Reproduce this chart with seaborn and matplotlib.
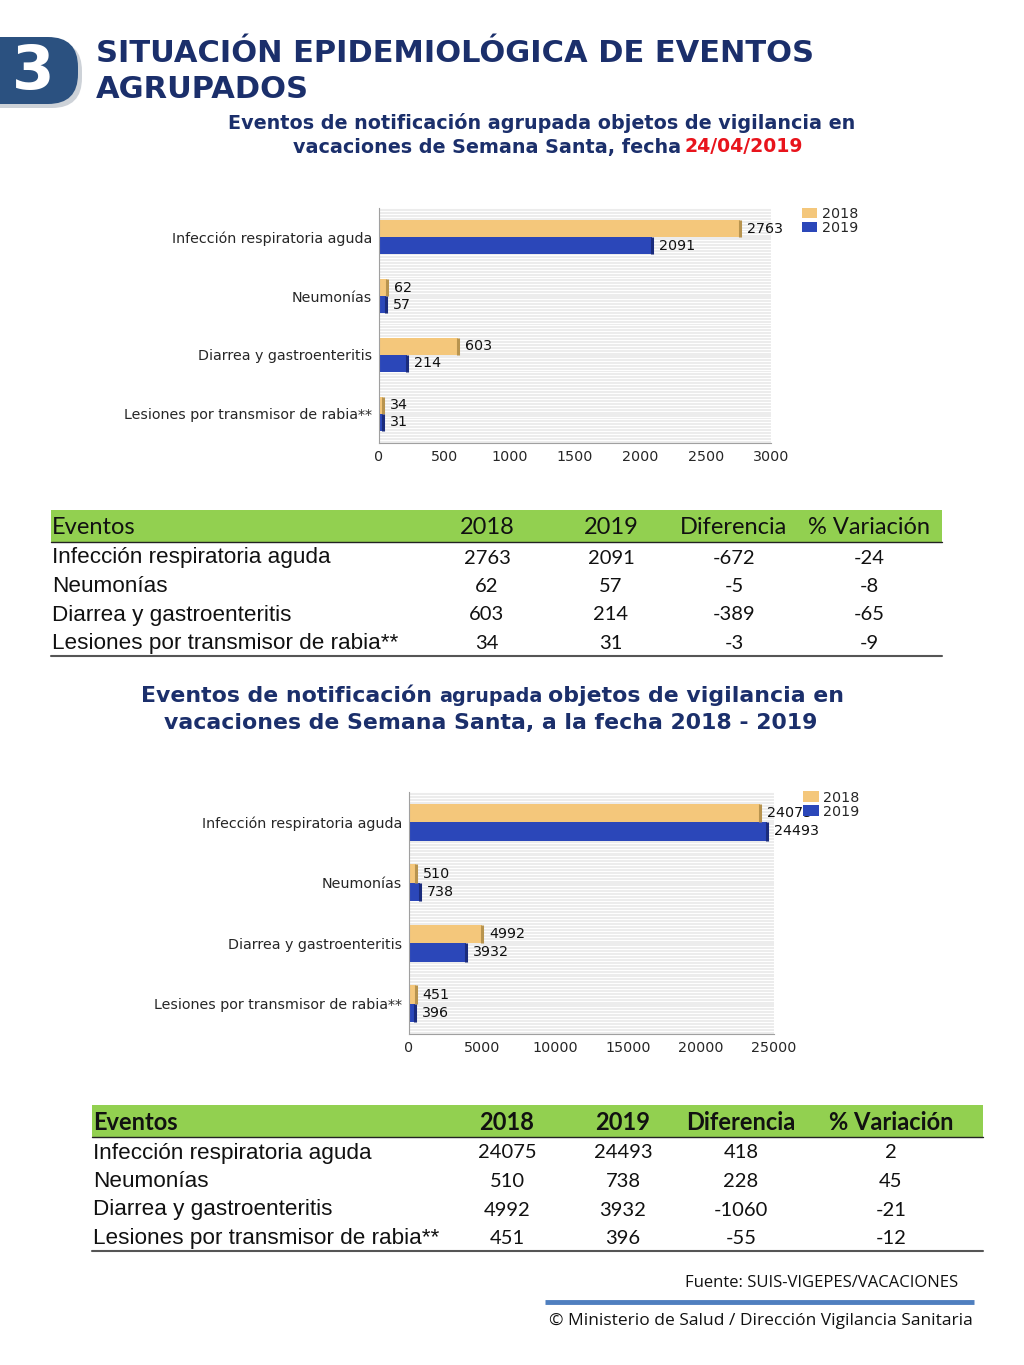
import pandas as pd
import seaborn as sns
import matplotlib.pyplot as plt
from matplotlib.patches import FancyBboxPatch, Rectangle
from matplotlib.ticker import MultipleLocator

# datos de la lámina
eventos = ['Infección respiratoria aguda', 'Neumonías',
           'Diarrea y gastroenteritis', 'Lesiones por transmisor de rabia**']
anios = ['2018', '2019']

# a la fecha 24/04/2019
fecha_2018 = [2763, 62, 603, 34]
fecha_2019 = [2091, 57, 214, 31]
fecha_dif = [-672, -5, -389, -3]
fecha_var = [-24, -8, -65, -9]

# acumulado 2018 - 2019
acum_2018 = [24075, 510, 4992, 451]
acum_2019 = [24493, 738, 3932, 396]
acum_dif = [418, 228, -1060, -55]
acum_var = [2, 45, -21, -12]

x_ticks_fecha = [0, 500, 1000, 1500, 2000, 2500, 3000]
x_ticks_acum = [0, 5000, 10000, 15000, 20000, 25000]

COLORES = ['#f4c77b', '#2b47b9']
BORDES = ['#b8944f', '#1b2c7c']
NAVY = '#1b2f6b'
FS_CHART = 10.3

sns.set_theme(style='white')
plt.rcParams['font.family'] = ['DejaVu Sans']

fig = plt.figure(figsize=(10.24, 13.65), dpi=100)

# capa de fondo en pixeles para textos y tablas
bg = fig.add_axes([0, 0, 1, 1], zorder=0)
bg.set_xlim(0, 1024)
bg.set_ylim(1365, 0)
bg.axis('off')


def grafico(rect, v18, v19, xmax, ticks, ancho):
    df = pd.DataFrame({
        'evento': eventos * 2,
        'anio': [anios[0]] * len(eventos) + [anios[1]] * len(eventos),
        'valor': v18 + v19,
    })
    ax = fig.add_axes(rect, zorder=2)
    sns.barplot(data=df, y='evento', x='valor', hue='anio', orient='h',
                palette=COLORES, width=ancho, saturation=1, ax=ax,
                linewidth=0, legend=True)
    ax.set_facecolor('#ececec')
    ax.yaxis.set_minor_locator(MultipleLocator(0.05))
    ax.grid(which='minor', axis='y', color='white', linewidth=0.7)
    ax.grid(which='major', visible=False)
    ax.set_axisbelow(True)
    ax.set_xlim(0, xmax)
    ax.set_xticks(ticks)
    ax.set_ylim(3.5, -0.5)
    ax.set_xlabel('')
    ax.set_ylabel('')
    for s in ['top', 'right']:
        ax.spines[s].set_visible(False)
    for s in ['left', 'bottom']:
        ax.spines[s].set_color('#a0a0a0')
        ax.spines[s].set_linewidth(0.8)
    ax.tick_params(axis='x', length=3, color='#a0a0a0', labelsize=FS_CHART, pad=2)
    ax.tick_params(axis='y', which='both', length=0, labelsize=FS_CHART, pad=5)
    # borde derecho oscuro de cada barra
    for cont, borde in zip(ax.containers, BORDES):
        for p in cont:
            xr = p.get_x() + p.get_width()
            ax.plot([xr, xr], [p.get_y(), p.get_y() + p.get_height()],
                    color=borde, lw=2.2, solid_capstyle='butt', zorder=3)
        ax.bar_label(cont, padding=5, fontsize=FS_CHART, color='#111111')
    h, l = ax.get_legend_handles_labels()
    ax.legend(h, l, loc='upper left', bbox_to_anchor=(1.06, 1.035),
              frameon=False, fontsize=FS_CHART, handlelength=1.1, handleheight=0.75,
              borderpad=0, labelspacing=0.0, handletextpad=0.3)
    return ax


grafico([379 / 1024, 1 - 443 / 1365, 392 / 1024, 235 / 1365],
        fecha_2018, fecha_2019, 3000, x_ticks_fecha, 0.58)
grafico([409 / 1024, 1 - 1034 / 1365, 365 / 1024, 242 / 1365],
        acum_2018, acum_2019, 25000, x_ticks_acum, 0.61)

# insignia "3"
bg.add_patch(FancyBboxPatch((-40, 41), 122, 67, boxstyle='round,pad=0,rounding_size=30',
                            fc='#b9bfc8', ec='none', alpha=0.7))
bg.add_patch(FancyBboxPatch((-40, 37), 118, 67, boxstyle='round,pad=0,rounding_size=30',
                            fc='#2b5180', ec='none'))
bg.text(33, 72, '3', color='white', fontsize=44, fontweight='bold',
        ha='center', va='center')

# titulo
bg.text(96, 54, 'SITUACIÓN EPIDEMIOLÓGICA DE EVENTOS', color=NAVY,
        fontsize=22, fontweight='heavy', ha='left', va='center')
bg.text(96, 90, 'AGRUPADOS', color=NAVY, fontsize=22, fontweight='heavy',
        ha='left', va='center')

# subtitulo 1
bg.text(542, 123, 'Eventos de notificación agrupada objetos de vigilancia en',
        color=NAVY, fontsize=13.8, fontweight='bold', ha='center', va='center')
bg.text(681, 147, 'vacaciones de Semana Santa, fecha', color=NAVY,
        fontsize=13.8, fontweight='bold', ha='right', va='center')
bg.text(685, 147, '24/04/2019', color='#e8141c', fontsize=13.6,
        fontweight='bold', ha='left', va='center')

# subtitulo 2
bg.text(432, 696, 'Eventos de notificación', color=NAVY, fontsize=15.8,
        fontweight='bold', ha='right', va='center')
bg.text(439, 697, 'agrupada', color=NAVY, fontsize=13.8, fontweight='bold',
        ha='left', va='center')
bg.text(548, 696, 'objetos de vigilancia en', color=NAVY, fontsize=15.8,
        fontweight='bold', ha='left', va='center')
bg.text(491, 723, 'vacaciones de Semana Santa, a la fecha 2018 - 2019',
        color=NAVY, fontsize=15.8, fontweight='bold', ha='center', va='center')


def tabla(x0, x1, y_head, cols, v18, v19, dif, var, negrita):
    bg.add_patch(Rectangle((x0, y_head - 16), x1 - x0, 32, fc='#92d050', ec='none'))
    bg.plot([x0, x1], [y_head + 16, y_head + 16], color='#222222', lw=1)
    peso = 'bold' if negrita else 'normal'
    enc = ['Eventos', '2018', '2019', 'Diferencia', '% Variación']
    bg.text(x0 + 1, y_head + 1, enc[0], fontsize=17, fontweight=peso,
            family=['Lato', 'DejaVu Sans'], ha='left', va='center', color='#111111')
    for c, t in zip(cols, enc[1:]):
        bg.text(c, y_head + 1, t, fontsize=17, fontweight=peso,
                family=['Lato', 'DejaVu Sans'], ha='center', va='center', color='#111111')
    for i, ev in enumerate(eventos):
        y = y_head + 32 + i * 28.5
        bg.text(x0 + 1, y, ev, fontsize=16.2, family=['Liberation Sans Narrow', 'Liberation Sans'],
                ha='left', va='center', color='#111111')
        for c, val in zip(cols, [v18[i], v19[i], dif[i], var[i]]):
            bg.text(c, y, str(val), fontsize=14.5, family=['Lato', 'DejaVu Sans'],
                    ha='center', va='center', color='#111111')
    yb = y_head + 31 + 3 * 28.5 + 13
    bg.plot([x0, x1], [yb, yb], color='#555555', lw=1.5)


tabla(51, 942, 526, [487, 611, 734, 869],
      fecha_2018, fecha_2019, fecha_dif, fecha_var, False)
tabla(92, 983, 1121, [507, 623, 741, 891],
      acum_2018, acum_2019, acum_dif, acum_var, True)

# pie de pagina
bg.text(958, 1283, 'Fuente: SUIS-VIGEPES/VACACIONES', fontsize=12,
        family=['Open Sans', 'DejaVu Sans'], ha='right', va='center', color='#111111')
bg.plot([545, 974], [1302, 1302], color='#4f7fbf', lw=3.5, solid_capstyle='butt')
bg.text(973, 1321, '© Ministerio de Salud / Dirección Vigilancia Sanitaria', fontsize=12.5,
        family=['Open Sans', 'DejaVu Sans'], ha='right', va='center', color='#111111')

fig.savefig('out.png', dpi=100)
